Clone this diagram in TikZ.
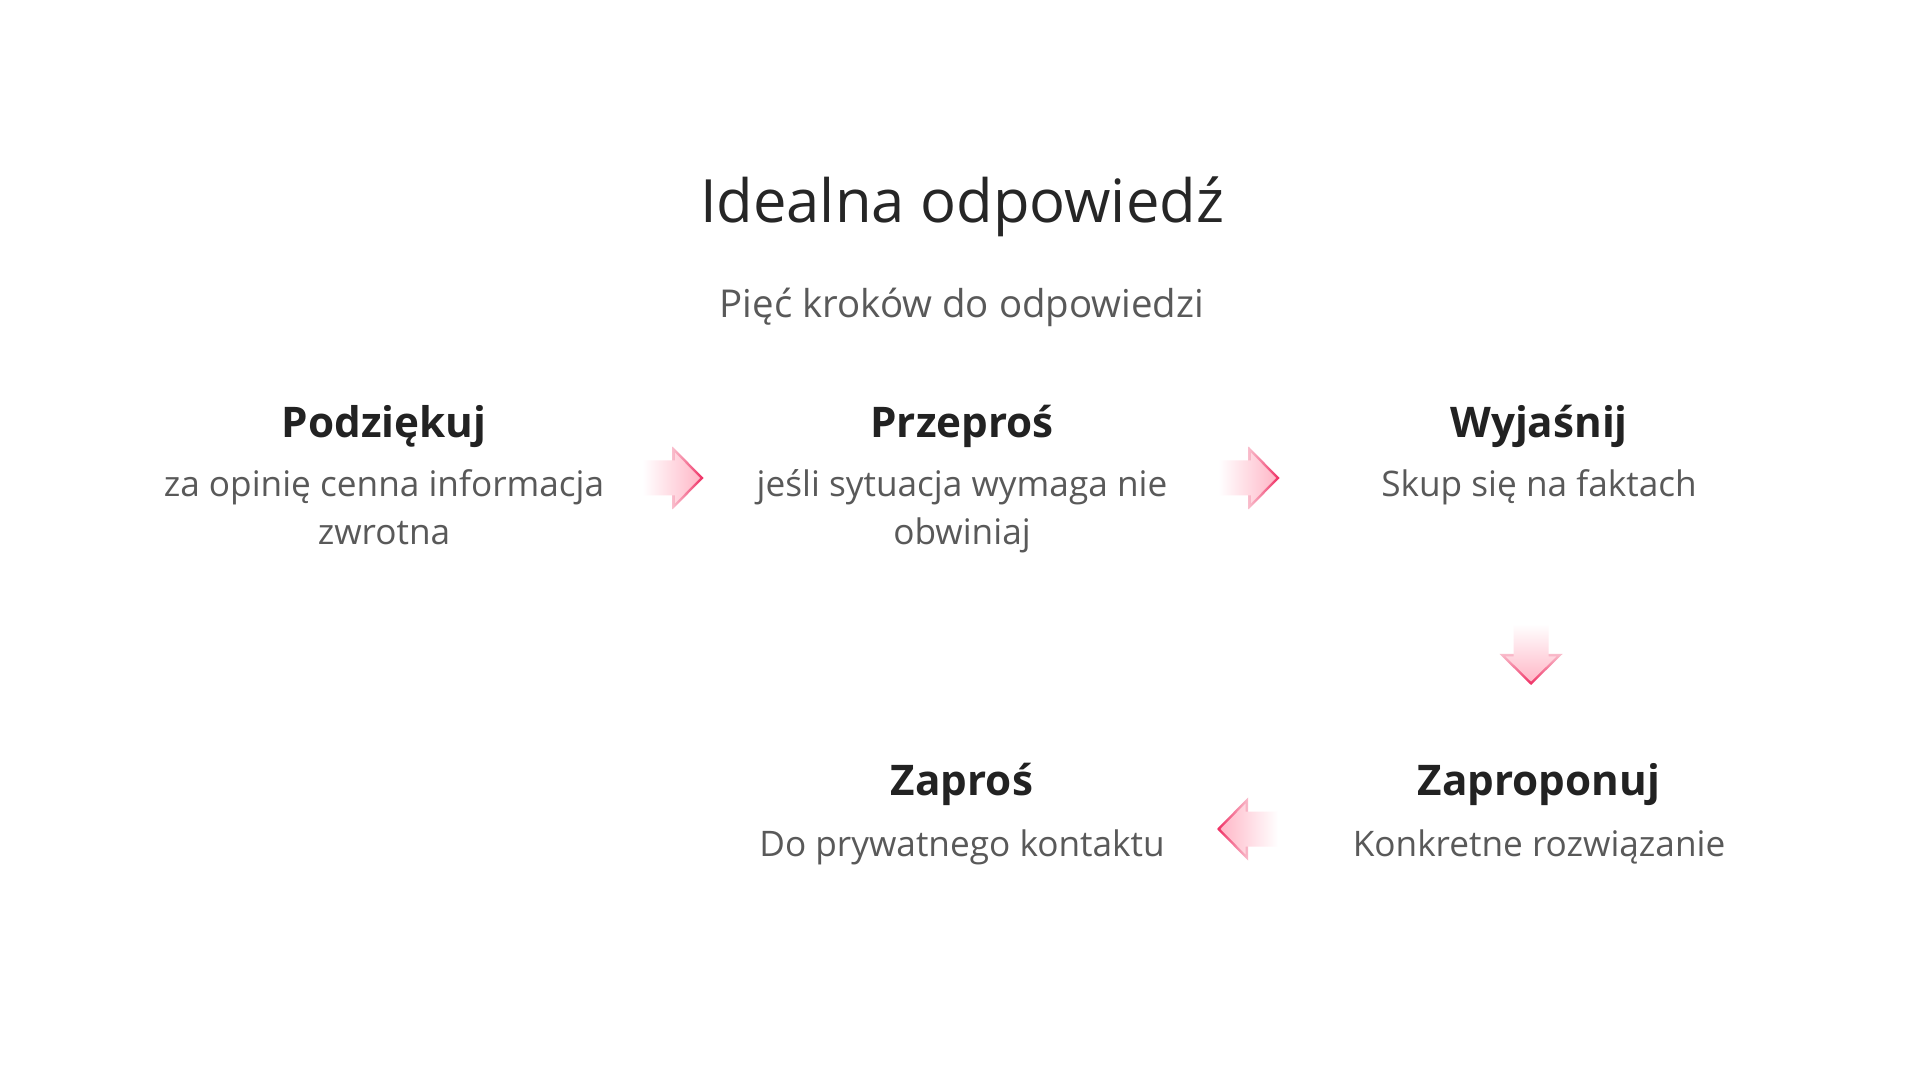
\documentclass[tikz,border=0pt]{standalone}
\usepackage{fontspec}
\setmainfont{Open Sans}
\definecolor{titlec}{HTML}{262626}
\definecolor{subc}{HTML}{595959}
\definecolor{headc}{HTML}{222222}
\definecolor{descc}{HTML}{595959}
\definecolor{fillpink}{HTML}{FFB3C4}
\definecolor{bordlight}{HTML}{F9BCCB}
\definecolor{bordmid}{HTML}{F58AA5}
\definecolor{bordred}{HTML}{EF2D62}
\newcommand\blkarrow[4]{% #1 cx, #2 cy, #3 direction vector, #4 normal vector; shading angle via \arrang
  \begin{scope}[shift={(#1,#2)}, x={#3}, y={#4}]
    \shade[top color=bordlight, middle color=bordmid, bottom color=bordred, shading angle=\arrang]
      (-0.5,31.5) -- (30.5,0) -- (-0.5,-31.5) -- cycle;
    \begin{scope}
      \clip (-30.5,17.5) -- (2,17.5) -- (2,25.4) -- (27,0) -- (2,-25.4) -- (2,-17.5) -- (-30.5,-17.5) -- cycle;
      \shade[top color=white, bottom color=fillpink, shading angle=\arrang]
        (-30.5,-31.5) rectangle (30.5,31.5);
    \end{scope}
  \end{scope}}
\tikzset{
  titlestyle/.style={anchor=base, text=titlec, font=\fontsize{59.7}{72}\selectfont, inner sep=0pt},
  substyle/.style={anchor=base, text=subc, font=\fontsize{38.4}{46}\selectfont, inner sep=0pt},
  headstyle/.style={anchor=base, text=headc, font=\bfseries\fontsize{42.2}{51}\selectfont, inner sep=0pt},
  descstyle/.style={anchor=base, text=descc, font=\fontsize{35.2}{42}\selectfont, inner sep=0pt},
}
\begin{document}
\begin{tikzpicture}[x=1pt,y=1pt]
\useasboundingbox (0,0) rectangle (1920,1080);
\fill[white] (0,0) rectangle (1920,1080);
% titles
\node[titlestyle] (title) at (962,857) {Idealna odpowiedź};
\node[substyle] (sub) at (962,762) {Pięć kroków do odpowiedzi};
% row 1
\node[headstyle] (h1) at (384,642) {Podziękuj};
\node[descstyle] (d1a) at (384,583) {za opinię cenna informacja};
\node[descstyle] (d1b) at (384,535) {zwrotna};
\node[headstyle] (h2) at (962,642) {Przeproś};
\node[descstyle] (d2a) at (962,583) {jeśli sytuacja wymaga nie};
\node[descstyle] (d2b) at (962,535) {obwiniaj};
\node[headstyle] (h3) at (1539,642) {Wyjaśnij};
\node[descstyle] (d3a) at (1539,583) {Skup się na faktach};
% row 2
\node[headstyle] (h5) at (962,284) {Zaproś};
\node[descstyle] (d5a) at (962,224) {Do prywatnego kontaktu};
\node[headstyle] (h4) at (1539,284) {Zaproponuj};
\node[descstyle] (d4a) at (1539,224) {Konkretne rozwiązanie};
% block arrows
\coordinate (a1) at (673,602);
\coordinate (a2) at (1249,602);
\coordinate (a3) at (1531,425.5);
\coordinate (a4) at (1247.5,251);
\def\arrang{90}
\blkarrow{673}{602}{(1pt,0)}{(0,1pt)}
\blkarrow{1249}{602}{(1pt,0)}{(0,1pt)}
\def\arrang{0}
\blkarrow{1531}{425.5}{(0,-1pt)}{(1pt,0)}
\def\arrang{270}
\blkarrow{1247.5}{251}{(-1pt,0)}{(0,1pt)}
\end{tikzpicture}
\end{document}
